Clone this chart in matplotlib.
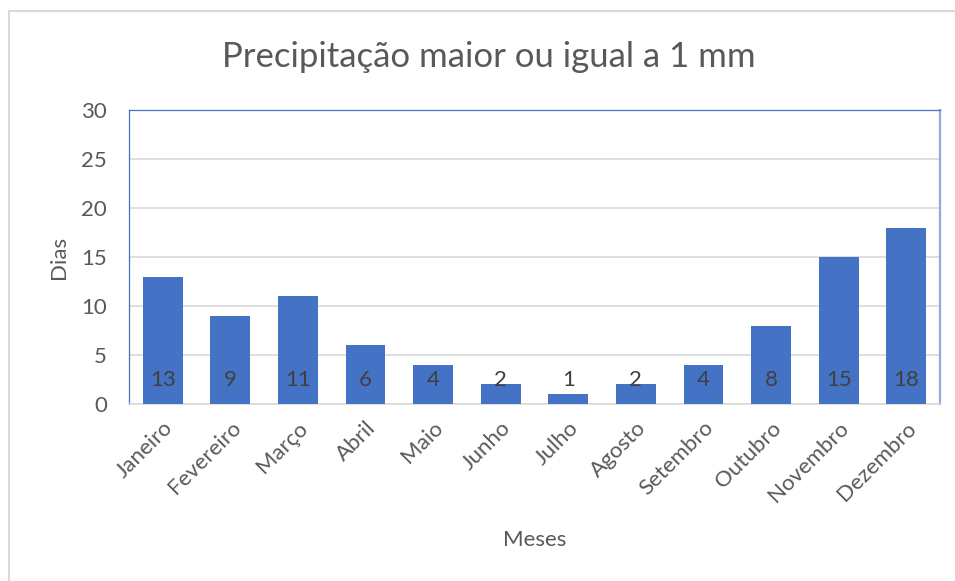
import matplotlib
matplotlib.use("Agg")
import matplotlib.pyplot as plt
from matplotlib.lines import Line2D

plt.rcParams["font.family"] = ["Lato", "DejaVu Sans"]

meses = ["Janeiro", "Fevereiro", "Março", "Abril", "Maio", "Junho",
         "Julho", "Agosto", "Setembro", "Outubro", "Novembro", "Dezembro"]
dias = [13, 9, 11, 6, 4, 2, 1, 2, 4, 8, 15, 18]
yticks = [0, 5, 10, 15, 20, 25, 30]

text_color = "#595959"
bar_color = "#4472C4"

fig = plt.figure(figsize=(9.55, 5.81), dpi=100)
ax = fig.add_axes([0.1351, 0.3046, 0.8492, 0.5061])

x = range(len(meses))
ax.bar(x, dias, width=0.59, color=bar_color, zorder=3)

# value labels sit at the base of each bar
for xi, v in zip(x, dias):
    ax.text(xi, 2.5, f"{v}", ha="center", va="center", fontsize=16,
            color="#404040", zorder=4)

ax.set_xlim(-0.5, len(meses) - 0.5)
ax.set_ylim(0, 30)
ax.set_yticks(yticks)
ax.set_yticklabels([str(t) for t in yticks], fontsize=16, color=text_color)
ax.set_xticks(list(x))
ax.set_xticklabels(meses, rotation=45, ha="right", rotation_mode="anchor",
                   fontsize=16, color=text_color)
ax.tick_params(length=0)
ax.tick_params(axis="y", pad=16)
ax.tick_params(axis="x", pad=10)
ax.grid(axis="y", color="#D9D9D9", linewidth=1.2, zorder=0)

for side in ["left", "top"]:
    ax.spines[side].set_color(bar_color)
    ax.spines[side].set_linewidth(0.9)
ax.spines["right"].set_color("#8FAADC")
ax.spines["right"].set_linewidth(1.6)
ax.spines["bottom"].set_color("#D9D9D9")
ax.spines["bottom"].set_linewidth(1.2)

ax.set_ylabel("Dias", fontsize=16, color=text_color, labelpad=9)
fig.text(0.560, 0.070, "Meses", ha="center", va="center", fontsize=16,
         color=text_color)
fig.text(0.512, 0.902, "Precipitação maior ou igual a 1 mm", ha="center",
         va="center", fontsize=25, color=text_color)

# light chart-area border along top and left edges
fig.add_artist(Line2D([0.009, 1.0], [0.981, 0.981], color="#D9D9D9",
                      linewidth=1.5, transform=fig.transFigure))
fig.add_artist(Line2D([0.009, 0.009], [0.0, 0.981], color="#D9D9D9",
                      linewidth=1.5, transform=fig.transFigure))

fig.savefig("out.png", dpi=100)
